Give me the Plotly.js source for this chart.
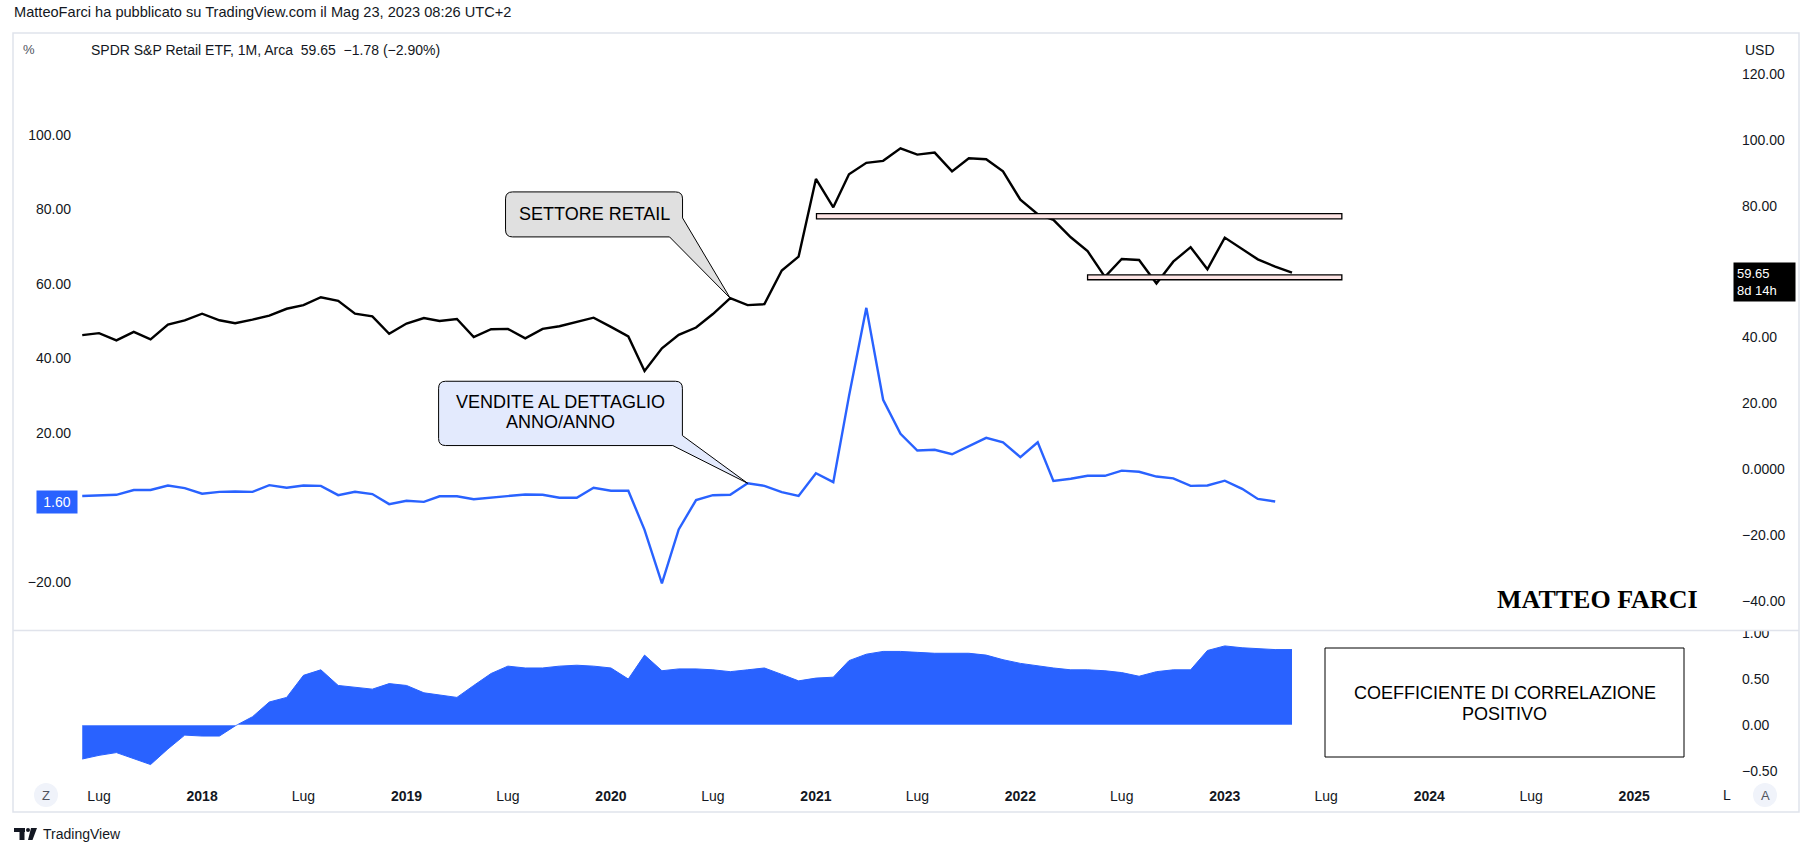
<!DOCTYPE html>
<html><head><meta charset="utf-8">
<script src="https://cdn.plot.ly/plotly-3.0.1.min.js"></script>
<style>html,body{margin:0;padding:0;background:#fff;}#chart{width:1812px;height:856px;}</style>
</head><body><div id="chart"></div>
<script>
// ---------------- DATA ----------------
const months = [
 '2017-06','2017-07','2017-08','2017-09','2017-10','2017-11','2017-12',
 '2018-01','2018-02','2018-03','2018-04','2018-05','2018-06','2018-07','2018-08','2018-09','2018-10','2018-11','2018-12',
 '2019-01','2019-02','2019-03','2019-04','2019-05','2019-06','2019-07','2019-08','2019-09','2019-10','2019-11','2019-12',
 '2020-01','2020-02','2020-03','2020-04','2020-05','2020-06','2020-07','2020-08','2020-09','2020-10','2020-11','2020-12',
 '2021-01','2021-02','2021-03','2021-04','2021-05','2021-06','2021-07','2021-08','2021-09','2021-10','2021-11','2021-12',
 '2022-01','2022-02','2022-03','2022-04','2022-05','2022-06','2022-07','2022-08','2022-09','2022-10','2022-11','2022-12',
 '2023-01','2023-02','2023-03','2023-04','2023-05'];

// SPDR S&P Retail ETF (XRT) monthly close, USD (right axis)
const xrtClose = [
 40.7,41.3,39.1,41.7,39.4,43.9,45.2,
 47.2,45.2,44.3,45.4,46.6,48.7,49.8,52.2,51.1,47.2,46.4,41.1,
 44.2,45.9,45.0,45.6,40.1,42.5,42.6,39.7,42.6,43.4,44.7,46.0,
 43.2,40.3,29.8,36.7,40.8,43.0,47.1,51.9,49.8,50.1,60.3,64.5,
 88.1,79.5,89.5,93.0,93.6,97.4,95.5,96.1,90.4,94.4,94.1,90.4,
 81.8,77.4,75.7,70.4,66.2,58.4,63.8,63.5,56.4,63.0,67.4,60.7,
 70.3,66.8,63.7,61.5,59.65];

// Retail sales year over year, % (left axis)
const retailSalesYoY = [
 3.1,3.2,3.4,4.7,4.7,5.9,5.2,
 3.7,4.2,4.3,4.2,6.0,5.3,5.9,5.8,3.3,4.2,3.6,0.9,
 1.8,1.5,3.0,3.0,2.2,2.6,3.0,3.5,3.4,2.6,2.6,5.3,
 4.5,4.5,-6.0,-20.4,-5.9,2.0,3.3,3.4,6.5,5.8,4.1,3.1,
 9.2,6.8,29.9,53.6,28.9,19.8,15.3,15.5,14.3,16.5,18.7,17.5,
 13.5,17.5,7.1,7.7,8.5,8.5,9.9,9.6,8.3,7.8,5.8,5.9,
 7.2,5.0,2.3,1.6];

// Correlation coefficient (lower pane)
const correlation = [
 -0.37,-0.33,-0.30,-0.37,-0.43,-0.26,-0.11,
 -0.12,-0.12,-0.01,0.09,0.25,0.30,0.54,0.60,0.43,0.41,0.39,0.45,
 0.43,0.35,0.33,0.30,0.43,0.56,0.64,0.62,0.62,0.64,0.65,0.64,
 0.62,0.50,0.76,0.59,0.61,0.61,0.60,0.58,0.60,0.62,0.55,0.48,
 0.51,0.52,0.70,0.77,0.80,0.80,0.79,0.78,0.78,0.78,0.76,0.71,
 0.67,0.64,0.62,0.60,0.60,0.59,0.57,0.53,0.58,0.60,0.60,0.81,
 0.86,0.84,0.83,0.82,0.82];

// Drawn horizontal zones on the price (USD) axis
const zoneStart = ['2021-01-02','2022-05-01'];
const zoneEnd   = ['2023-07-29','2023-07-29'];
const zoneLow   = [76.0, 57.5];
const zoneHigh  = [77.6, 59.0];

// Time axis ticks
const timeTickVals = ['2017-07-01','2018-01-01','2018-07-01','2019-01-01','2019-07-01','2020-01-01','2020-07-01',
  '2021-01-01','2021-07-01','2022-01-01','2022-07-01','2023-01-01','2023-07-01','2024-01-01','2024-07-01','2025-01-01'];
const timeTickText = ['Lug','<b>2018</b>','Lug','<b>2019</b>','Lug','<b>2020</b>','Lug',
  '<b>2021</b>','Lug','<b>2022</b>','Lug','<b>2023</b>','Lug','<b>2024</b>','Lug','<b>2025</b>'];
// (0.00 on the left and 60.00 on the right sit under the last-value labels)
const pctTickVals = [-20,20,40,60,80,100];
const pctTickText = ['\u221220.00','20.00','40.00','60.00','80.00','100.00'];
const usdTickVals = [-40,-20,0,20,40,80,100,120];
const usdTickText = ['\u221240.00','\u221220.00','0.0000','20.00','40.00','80.00','100.00','120.00'];
const corrTickVals = [-0.5,0,0.5,1];
const corrTickText = ['\u22120.50','0.00','0.50','1.00'];

// ---------------- LAYOUT HELPERS ----------------
const W = 1812, H = 856;
const M = {l: 80, r: 79, t: 33, b: 76};
const PW = W - M.l - M.r, PH = H - M.t - M.b;
const px = X => (X - M.l) / PW;
const py = Y => (H - M.b - Y) / PH;
const split = py(630);
const FONT = 'Liberation Sans, Arial, sans-serif';
const TXT = '#131722';
const BLUE = '#2962FF';

function note(X, Y, text, opts) {
  const base = {xref:'paper', yref:'paper', x:px(X), y:py(Y), text:text, showarrow:false,
    xanchor:'left', yanchor:'middle', font:{family:FONT, size:14, color:TXT}};
  return Object.assign(base, opts || {});
}
function prect(x0, y0, x1, y1, o) {
  return Object.assign({type:'rect', xref:'paper', yref:'paper', x0:px(x0), x1:px(x1), y0:py(y1), y1:py(y0),
    layer:'above'}, o);
}
// callout outline (rounded box + wedge), expressed in pixels relative to the tip (a data point)
function calloutPath(L, R, T, B, tailBottomX, tailRightY, tipX, tipY, r) {
  const X = v => (v - tipX).toFixed(1);
  const Y = v => (tipY - v).toFixed(1);
  return 'M' + X(L + r) + ',' + Y(T) +
    ' L' + X(R - r) + ',' + Y(T) +
    ' Q' + X(R) + ',' + Y(T) + ' ' + X(R) + ',' + Y(T + r) +
    ' L' + X(R) + ',' + Y(tailRightY) +
    ' L0,0' +
    ' L' + X(tailBottomX) + ',' + Y(B) +
    ' L' + X(L + r) + ',' + Y(B) +
    ' Q' + X(L) + ',' + Y(B) + ' ' + X(L) + ',' + Y(B - r) +
    ' L' + X(L) + ',' + Y(T + r) +
    ' Q' + X(L) + ',' + Y(T) + ' ' + X(L + r) + ',' + Y(T) + ' Z';
}

const iRetail = 38;  // Aug 2020 on the price line
const iSales = 39;   // Sep 2020 on the retail sales line
const lastPrice = xrtClose[xrtClose.length - 1];
const lastSales = retailSalesYoY[retailSalesYoY.length - 1];

// ---------------- TRACES ----------------
const traces = [
  {x: months.slice(0, retailSalesYoY.length), y: retailSalesYoY, yaxis:'y', type:'scatter', mode:'lines',
   line:{color:BLUE, width:2.4}, hoverinfo:'skip'},
  {x: months, y: xrtClose, yaxis:'y2', type:'scatter', mode:'lines',
   line:{color:'#000000', width:2.4}, hoverinfo:'skip'},
  {x: months, y: correlation, yaxis:'y3', type:'scatter', mode:'lines', fill:'tozeroy',
   fillcolor:BLUE, line:{color:BLUE, width:1}, hoverinfo:'skip'}
];

// ---------------- SHAPES ----------------
const shapes = [];
for (let i = 0; i < zoneStart.length; i++) {
  shapes.push({type:'rect', xref:'x', yref:'y2', x0:zoneStart[i], x1:zoneEnd[i], y0:zoneLow[i], y1:zoneHigh[i],
    fillcolor:'#fde4e4', line:{color:'#000', width:1.3}, layer:'above'});
}
shapes.push({type:'line', xref:'x', yref:'y3', x0:months[0], x1:months[months.length-1], y0:0, y1:0,
  line:{color:'rgba(255,255,255,0.55)', width:1}, layer:'above'});
// callouts
shapes.push({type:'path', xref:'x', yref:'y2', xsizemode:'pixel', ysizemode:'pixel',
  xanchor: months[iRetail], yanchor: xrtClose[iRetail],
  path: calloutPath(506, 683, 192, 237, 670, 218, 730.7, 298.3, 7),
  fillcolor:'#e0e0e0', line:{color:'#000', width:1}, layer:'above'});
shapes.push({type:'path', xref:'x', yref:'y', xsizemode:'pixel', ysizemode:'pixel',
  xanchor: months[iSales], yanchor: retailSalesYoY[iSales],
  path: calloutPath(438.5, 682.3, 380.7, 445, 672.7, 435, 747.5, 482.7, 7),
  fillcolor:'#e3eafd', line:{color:'#000', width:1}, layer:'above'});
// correlation note box
shapes.push(prect(1325, 648, 1684, 757, {fillcolor:'#ffffff', line:{color:'#000', width:1}}));
// cover top half of clipped 1.00 label, pane separator, frame
shapes.push(prect(1735, 620, 1797, 630.5, {fillcolor:'#ffffff', line:{width:0}}));
shapes.push({type:'line', xref:'paper', yref:'paper', x0:px(13), x1:px(1799), y0:py(630.5), y1:py(630.5),
  line:{color:'#e0e3eb', width:1.5}, layer:'above'});
shapes.push(prect(13, 33, 1799, 812, {fillcolor:'rgba(0,0,0,0)', line:{color:'#e0e3eb', width:1.5}}));
// Z / A buttons
shapes.push({type:'circle', xref:'paper', yref:'paper', x0:px(34), x1:px(58), y0:py(807), y1:py(783),
  fillcolor:'#f0f3fa', line:{width:0}, layer:'above'});
shapes.push({type:'circle', xref:'paper', yref:'paper', x0:px(1753), x1:px(1777), y0:py(807), y1:py(783),
  fillcolor:'#f0f3fa', line:{width:0}, layer:'above'});
// TradingView logo glyph
shapes.push(prect(14, 828, 25, 832, {fillcolor:TXT, line:{width:0}}));
shapes.push(prect(19.5, 828, 24.5, 840, {fillcolor:TXT, line:{width:0}}));
shapes.push({type:'circle', xref:'paper', yref:'paper', x0:px(26), x1:px(30), y0:py(832), y1:py(828),
  fillcolor:TXT, line:{width:0}, layer:'above'});
shapes.push({type:'path', xref:'paper', yref:'paper',
  path:'M'+px(31)+','+py(828)+' L'+px(37)+','+py(828)+' L'+px(32.5)+','+py(840)+' L'+px(28)+','+py(840)+' Z',
  fillcolor:TXT, line:{width:0}, layer:'above'});

// ---------------- ANNOTATIONS ----------------
const annotations = [
  note(12, 12, 'MatteoFarci ha pubblicato su TradingView.com il Mag 23, 2023 08:26 UTC+2', {font:{family:FONT, size:14.6, color:TXT}}),
  note(29, 50, '%', {xanchor:'center', font:{family:FONT, size:13, color:'#50535e'}}),
  note(89, 50, 'SPDR S&amp;P Retail ETF, 1M, Arca\u00a0\u00a0' + lastPrice.toFixed(2) + '\u00a0\u00a0\u22121.78 (\u22122.90%)'),
  note(1743, 50, 'USD'),
  note(1721, 795, 'L'),
  note(46, 795, 'Z', {xanchor:'center', font:{family:FONT, size:13, color:'#50535e'}}),
  note(1765, 795, 'A', {xanchor:'center', font:{family:FONT, size:13, color:'#50535e'}}),
  note(41, 834, 'TradingView'),
  note(1597, 599, '<b>MATTEO FARCI</b>', {xanchor:'center', font:{family:'Liberation Serif, serif', size:26, color:'#000'}}),
  note(1504.5, 693, 'COEFFICIENTE DI CORRELAZIONE', {xanchor:'center', font:{family:FONT, size:18, color:'#000'}}),
  note(1504.5, 714, 'POSITIVO', {xanchor:'center', font:{family:FONT, size:18, color:'#000'}}),
  // callout texts anchored to the same data points
  {xref:'x', yref:'y2', x:months[iRetail], y:xrtClose[iRetail], showarrow:false, xshift:594.5-730.7, yshift:298.3-214.5,
   text:'SETTORE RETAIL', font:{family:FONT, size:18, color:'#000'}},
  {xref:'x', yref:'y', x:months[iSales], y:retailSalesYoY[iSales], showarrow:false, xshift:560.4-747.5, yshift:482.7-401.7,
   text:'VENDITE AL DETTAGLIO', font:{family:FONT, size:18, color:'#000'}},
  {xref:'x', yref:'y', x:months[iSales], y:retailSalesYoY[iSales], showarrow:false, xshift:560.4-747.5, yshift:482.7-421.7,
   text:'ANNO/ANNO', font:{family:FONT, size:18, color:'#000'}},
  // last value labels on the price scales
  {xref:'paper', x:1, xanchor:'left', yref:'y2', y:lastPrice, yanchor:'top', yshift:10.5, showarrow:false,
   text: lastPrice.toFixed(2) + '<br>8d 14h', align:'left', bgcolor:'#000000', borderpad:3, width:55,
   font:{family:FONT, size:13, color:'#ffffff'}},
  {xref:'paper', x:0, xanchor:'right', xshift:-2, yref:'y', y:lastSales, yanchor:'middle', showarrow:false,
   text: lastSales.toFixed(2), bgcolor:BLUE, borderpad:3, width:34,
   font:{family:FONT, size:14, color:'#ffffff'}}
];

const axisFont = {family:FONT, size:14, color:TXT};
const layout = {
  width: W, height: H,
  margin: {l:M.l, r:M.r, t:M.t, b:M.b, pad:0},
  paper_bgcolor:'#ffffff', plot_bgcolor:'#ffffff',
  showlegend:false,
  xaxis: {type:'date', range:['2017-05-28','2025-06-26 10:00'], anchor:'y3',
    tickmode:'array', tickvals:timeTickVals, ticktext:timeTickText, ticks:'', showgrid:false,
    zeroline:false, showline:false, tickfont:axisFont, ticklabelstandoff:6, fixedrange:true},
  yaxis: {domain:[split, 1], range:[-32.9, 127.4], side:'left', anchor:'x',
    tickmode:'array', tickvals:pctTickVals, ticktext:pctTickText, ticks:'', showgrid:false,
    zeroline:false, showline:false, tickfont:axisFont, ticklabelstandoff:8},
  yaxis2: {overlaying:'y', range:[-48.8, 132.4], side:'right', anchor:'x',
    tickmode:'array', tickvals:usdTickVals, ticktext:usdTickText, ticks:'', showgrid:false,
    zeroline:false, showline:false, tickfont:axisFont, ticklabelstandoff:8},
  yaxis3: {domain:[0, split], range:[-0.598, 1.033], side:'right', anchor:'x',
    tickmode:'array', tickvals:corrTickVals, ticktext:corrTickText, ticks:'', showgrid:false,
    zeroline:false, showline:false, tickfont:axisFont, ticklabelstandoff:8},
  shapes: shapes,
  annotations: annotations
};

Plotly.newPlot('chart', traces, layout, {displayModeBar:false, staticPlot:true});
</script>
</body></html>
